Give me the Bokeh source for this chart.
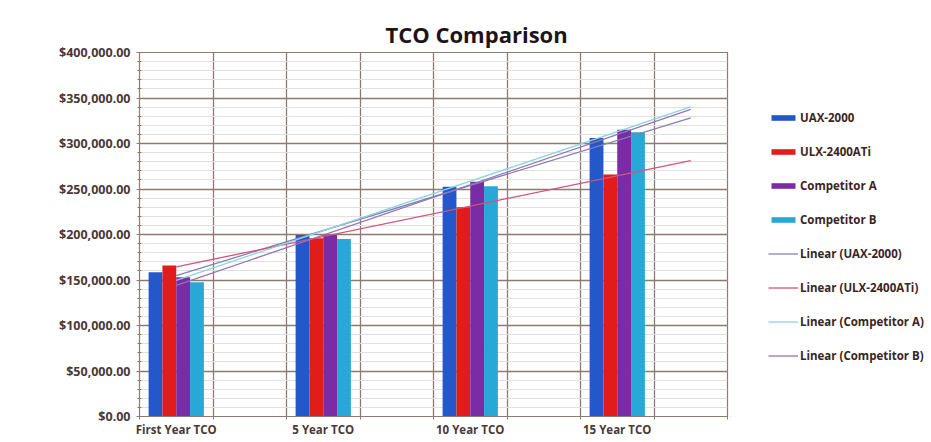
import numpy as np
from bokeh.plotting import figure
from bokeh.layouts import row
from bokeh.models import (Range1d, FixedTicker, NumeralTickFormatter, Legend,
                          LegendItem, Title)
from bokeh.embed import file_html
from bokeh.resources import INLINE

# ---- data ----
categories = ["First Year TCO", "5 Year TCO", "10 Year TCO", "15 Year TCO"]
uax_2000 = [158500, 199500, 252500, 306000]
ulx_2400ati = [166000, 196000, 230000, 266000]
competitor_a = [153000, 199500, 258000, 315000]
competitor_b = [147500, 195000, 253000, 312500]
series_names = ["UAX-2000", "ULX-2400ATi", "Competitor A", "Competitor B"]

# ---- style ----
bar_colors = ["#2457c9", "#e11d1b", "#7a2ba6", "#27a8d6"]
trend_colors = ["#8282b6", "#d5527c", "#8ad6e0", "#9a72b2"]
grid_color = "#8c7b70"
text_color = "#4a3838"
FONT = "Open Sans"

series = [uax_2000, ulx_2400ati, competitor_a, competitor_b]
xpos = np.arange(1, len(categories) + 1)

p = figure(width=730, height=442, x_range=Range1d(0.75, 4.75),
           y_range=Range1d(0, 400000), output_backend="svg",
           toolbar_location=None, min_border_left=139, min_border_right=3,
           min_border_top=52, min_border_bottom=26)
p.background_fill_color = "white"
p.border_fill_color = "white"
p.outline_line_color = grid_color
p.outline_line_width = 1.2

# grid
p.xgrid.ticker = FixedTicker(ticks=[0.75 + 0.5 * i for i in range(9)])
p.xgrid.grid_line_color = grid_color
p.xgrid.grid_line_width = 1.3
p.ygrid.grid_line_color = grid_color
p.ygrid.grid_line_width = 1.3
p.ygrid.minor_grid_line_color = "#e2deda"
p.ygrid.minor_grid_line_width = 1

# y axis
p.yaxis.ticker = FixedTicker(ticks=list(range(0, 400001, 50000)),
                             minor_ticks=list(range(0, 400001, 10000)))
p.yaxis.formatter = NumeralTickFormatter(format="$0,0.00")
p.yaxis.axis_line_color = grid_color
p.yaxis.major_tick_line_color = grid_color
p.yaxis.minor_tick_line_color = grid_color
p.yaxis.major_tick_in = 3
p.yaxis.major_tick_out = 3
p.yaxis.minor_tick_in = 2
p.yaxis.minor_tick_out = 2
p.yaxis.major_label_standoff = 6
p.yaxis.major_label_text_font = FONT
p.yaxis.major_label_text_font_style = "bold"
p.yaxis.major_label_text_font_size = "12.5px"
p.yaxis.major_label_text_color = text_color

# x axis
p.xaxis.ticker = FixedTicker(ticks=list(xpos),
                             minor_ticks=[0.75 + 0.5 * i for i in range(9)])
p.xaxis.major_label_overrides = {int(x): c for x, c in zip(xpos, categories)}
p.xaxis.axis_line_color = grid_color
p.xaxis.major_tick_line_color = None
p.xaxis.major_tick_out = 0
p.xaxis.major_tick_in = 0
p.xaxis.minor_tick_line_color = grid_color
p.xaxis.minor_tick_in = 0
p.xaxis.minor_tick_out = 3
p.xaxis.major_label_standoff = 2
p.xaxis.major_label_text_font = FONT
p.xaxis.major_label_text_font_style = "bold"
p.xaxis.major_label_text_font_size = "11.5px"
p.xaxis.major_label_text_color = text_color

# bars
bw = 0.094
for i, (vals, col) in enumerate(zip(series, bar_colors)):
    p.vbar(x=xpos + (i - 1.5) * bw, top=vals, width=bw, bottom=0,
           fill_color=col, line_color=None)

# linear trendlines (least squares, forecast forward 0.5 period)
xs = np.array([1.0, 4.5])
for vals, col in zip(series, trend_colors):
    coef = np.polyfit(xpos, vals, 1)
    p.line(xs, np.polyval(coef, xs), line_color=col, line_width=1.3)

# title (left-aligned with offset so it sits centred on the whole chart)
title = Title(text="TCO Comparison", align="left", offset=246, standoff=8,
              text_font=FONT, text_font_style="bold", text_font_size="22px",
              text_color="#1e1418")
p.add_layout(title, "above")

# ---- legend panel (separate figure to the right) ----
lf = figure(width=201, height=442, x_range=Range1d(0, 1), y_range=Range1d(0, 1),
            output_backend="svg", toolbar_location=None, min_border=0)
lf.axis.visible = False
lf.grid.visible = False
lf.outline_line_color = None
lf.background_fill_color = "white"
lf.border_fill_color = "white"

# legend key glyphs (placed outside the visible range; only used for the keys)
bar_keys = [lf.vbar(x=[-5], top=[-5], bottom=[-6], width=0.1, fill_color=c,
                    line_color=None) for c in bar_colors]
line_keys = [lf.line(x=[-5, -4], y=[-5, -5], line_color=c, line_width=1.3)
             for c in trend_colors]

items = [LegendItem(label=n, renderers=[r]) for n, r in zip(series_names, bar_keys)]
items += [LegendItem(label="Linear (%s)" % n, renderers=[r])
          for n, r in zip(series_names, line_keys)]
legend = Legend(items=items, location=(38, 51), orientation="vertical",
                glyph_width=30, glyph_height=7, label_height=20,
                spacing=14, padding=0, margin=0, label_standoff=2,
                border_line_alpha=0, background_fill_alpha=0,
                label_text_font=FONT, label_text_font_style="bold",
                label_text_font_size="11.5px", label_text_color="#3a2424")
lf.add_layout(legend)

layout = row(p, lf, spacing=0)
open("out.html", "w").write(file_html(layout, INLINE))
